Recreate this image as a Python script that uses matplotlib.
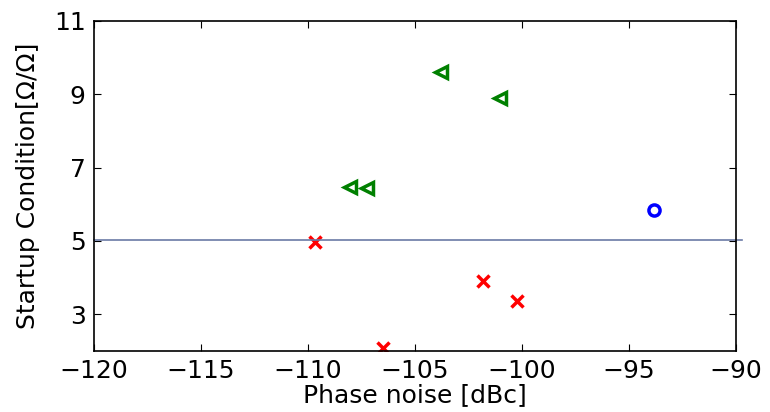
import matplotlib.pyplot as plt

# measured oscillators: phase noise [dBc] vs startup condition [Ohm/Ohm]
cross_x = [-109.67, -106.5, -101.82, -100.23]
cross_y = [4.98, 2.09, 3.92, 3.37]
tri_x = [-103.79, -101.03, -108.04, -107.24]
tri_y = [9.61, 8.90, 6.48, 6.45]
circ_x = [-93.83]
circ_y = [5.85]
threshold = 5.03

fig = plt.figure(figsize=(7.7, 4.12), dpi=100)
ax = fig.add_axes([94 / 770, 1 - 351 / 412, 642 / 770, 330 / 412])

ax.plot(cross_x, cross_y, 'x', color='red', ms=8, mew=2.5, ls='none')
ax.plot(tri_x, tri_y, '<', color='green', mfc='none', ms=8, mew=2.5, ls='none')
ax.plot(circ_x, circ_y, 'o', color='blue', mfc='none', ms=8, mew=2.5, ls='none')
ax.axhline(threshold, xmin=0, xmax=1.01, color='#6b7aa6', lw=1.2, clip_on=False)

ax.set_xlim(-120, -90)
ax.set_ylim(2, 11)
ax.set_yticks([3, 5, 7, 9, 11])
ax.set_xticks(range(-120, -89, 5))
ax.tick_params(direction='in', top=True, right=True, labelsize=18, length=5, pad=6)
for s in ax.spines.values():
    s.set_linewidth(1.2)

ax.set_xlabel('Phase noise [dBc]', fontsize=18, labelpad=0)
ax.set_ylabel('Startup Condition[Ω/Ω]', fontsize=18, labelpad=10)

fig.savefig('out.png', dpi=100)
